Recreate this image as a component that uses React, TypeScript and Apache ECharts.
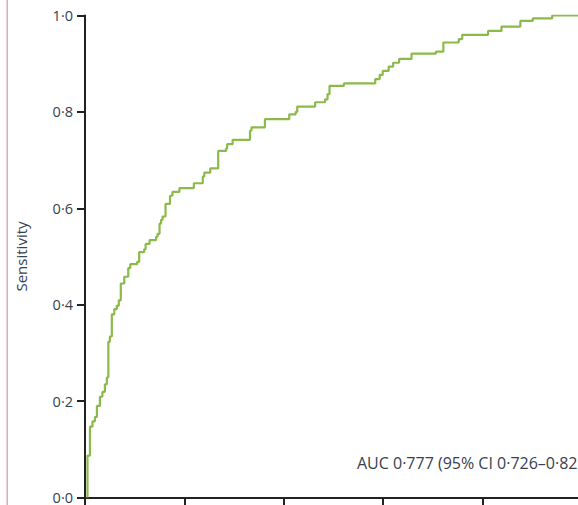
import React, { useEffect, useRef } from "react";
import * as echarts from "echarts";

// ROC curve (1 - specificity, sensitivity) — tops of each vertical step
const fpr = [
  0.005, 0.005, 0.010, 0.015, 0.020, 0.024, 0.030, 0.035, 0.040, 0.044,
  0.047, 0.050, 0.054, 0.059, 0.064, 0.068, 0.072, 0.079, 0.087, 0.091,
  0.105, 0.109, 0.119, 0.122, 0.130, 0.143, 0.146, 0.150, 0.153, 0.156,
  0.162, 0.171, 0.176, 0.190, 0.219, 0.237, 0.240, 0.252, 0.268, 0.284,
  0.286, 0.297, 0.332, 0.335, 0.362, 0.411, 0.424, 0.427, 0.463, 0.483,
  0.488, 0.492, 0.521, 0.584, 0.593, 0.599, 0.611, 0.620, 0.632, 0.657,
  0.706, 0.721, 0.752, 0.759, 0.811, 0.838, 0.876, 0.901, 0.940, 1.0,
];
const tpr = [
  0.0, 0.087, 0.147, 0.158, 0.167, 0.190, 0.209, 0.219, 0.235, 0.249,
  0.323, 0.334, 0.380, 0.391, 0.398, 0.409, 0.444, 0.458, 0.476, 0.484,
  0.489, 0.509, 0.515, 0.526, 0.534, 0.541, 0.547, 0.568, 0.576, 0.583,
  0.609, 0.626, 0.634, 0.642, 0.652, 0.666, 0.674, 0.683, 0.719, 0.724,
  0.733, 0.742, 0.761, 0.768, 0.785, 0.795, 0.800, 0.811, 0.820, 0.826,
  0.837, 0.854, 0.859, 0.868, 0.877, 0.885, 0.894, 0.902, 0.910, 0.921,
  0.925, 0.944, 0.951, 0.960, 0.968, 0.977, 0.989, 0.994, 1.0, 1.0,
];
const yTicks = [0, 0.2, 0.4, 0.6, 0.8, 1.0];
const yAxisTitle = "Sensitivity";
const aucText = "AUC 0·777 (95% CI 0·726–0·829)";

const fmt = (v: number) => v.toFixed(1).replace(".", "·");

export default function App() {
  const ref = useRef<HTMLDivElement>(null);
  useEffect(() => {
    if (!ref.current) return;
    const chart = echarts.init(ref.current, null, { renderer: "svg" });
    const font = "'Open Sans', 'Noto Sans', sans-serif";
    const labelColor = "#37414f";
    chart.setOption({
      animation: false,
      grid: { left: 85, top: 15.5, width: 497, height: 482, containLabel: false },
      xAxis: {
        type: "value",
        min: 0,
        max: 1,
        interval: 0.2,
        axisLine: { show: true, lineStyle: { color: "#222", width: 2 } },
        axisTick: { show: true, length: 8, lineStyle: { color: "#222", width: 2 } },
        axisLabel: { show: false },
        splitLine: { show: false },
      },
      yAxis: {
        type: "value",
        min: 0,
        max: 1,
        interval: 0.2,
        name: yAxisTitle,
        nameLocation: "middle",
        nameGap: 57,
        nameTextStyle: { color: labelColor, fontFamily: font, fontSize: 15 },
        axisLine: { show: true, lineStyle: { color: "#222", width: 2 } },
        axisTick: { show: true, length: 8, lineStyle: { color: "#222", width: 2 } },
        axisLabel: {
          formatter: (v: number) => (yTicks.some((t) => Math.abs(t - v) < 1e-9) ? fmt(v) : ""),
          color: labelColor,
          fontFamily: font,
          fontSize: 14.5,
          margin: 12,
        },
        splitLine: { show: false },
      },
      graphic: [
        {
          type: "rect",
          left: 6.5,
          top: 0,
          shape: { width: 1.5, height: 560 },
          style: { fill: "#e3a6ba" },
        },
        {
          type: "text",
          left: 357,
          top: 455,
          style: { text: aucText, fill: labelColor, font: `16px ${font}` },
        },
      ],
      series: [
        {
          type: "line",
          step: "end",
          data: fpr.map((x, i) => [x, tpr[i]]),
          showSymbol: false,
          symbol: "none",
          lineStyle: { color: "#8cba4a", width: 2.2 },
        },
      ],
    });
    return () => chart.dispose();
  }, []);
  return (
    <div style={{ position: "fixed", left: 0, top: 0, width: 578, height: 505, overflow: "hidden", background: "#fff" }}>
      <div ref={ref} style={{ width: 640, height: 560 }} />
    </div>
  );
}
